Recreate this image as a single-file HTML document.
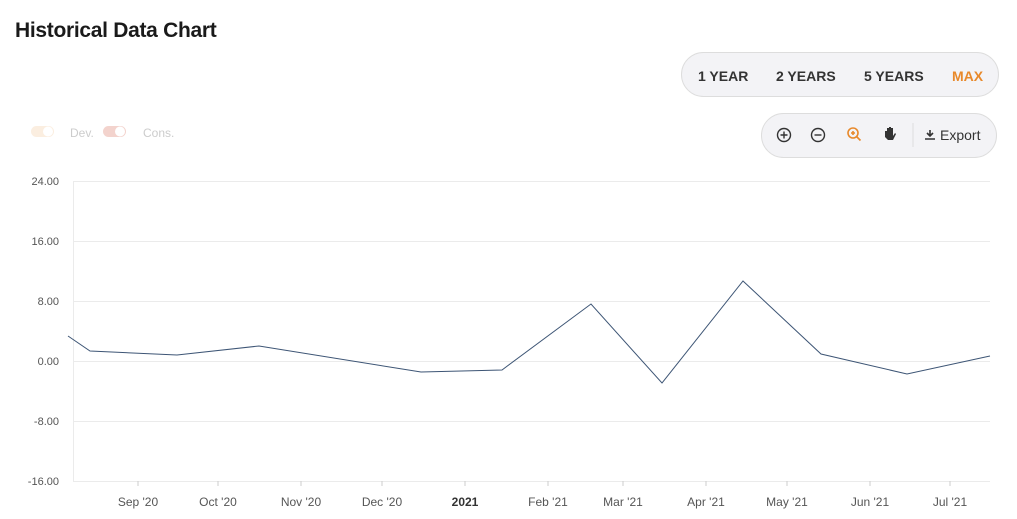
<!DOCTYPE html><html><head><style>
body{margin:0;width:1017px;height:519px;background:#fff;font-family:"Liberation Sans",sans-serif;position:relative;overflow:hidden}
h1{position:absolute;left:15px;top:19px;margin:0;font-size:21px;font-weight:bold;color:#1a1a1a;letter-spacing:-0.3px}
.rng{position:absolute;left:681px;top:52px;width:318px;height:45px;border:1px solid #ddd;border-radius:23px;background:#f3f3f6;box-sizing:border-box}
.rng span{position:absolute;top:15px;font-size:14px;font-weight:bold;color:#333}
.tb{position:absolute;left:761px;top:113px;width:236px;height:45px;border:1px solid #ddd;border-radius:23px;background:#f3f3f6;box-sizing:border-box}
</style></head><body>
<h1>Historical Data Chart</h1>
<div class="rng"><span style="left:16px">1 YEAR</span><span style="left:94px">2 YEARS</span><span style="left:182px">5 YEARS</span><span style="left:270px;color:#e8892b">MAX</span></div>
<div class="tb">
<svg width="236" height="44" style="position:absolute;left:-1px;top:-1px">
<g fill="none" stroke="#333" stroke-width="1.4"><circle cx="23" cy="22" r="6.5"/><path d="M19.5 22h7M23 18.5v7"/><circle cx="57" cy="22" r="6.5"/><path d="M53.5 22h7"/></g>
<g fill="none" stroke="#e8892b" stroke-width="1.6"><circle cx="92" cy="20" r="5"/><path d="M95.5 23.5l4 4M90 20h4M92 18v4"/></g>
<path d="M124 24v-6h2v4v-7h2v6v-7h2v7v-6h2v8l2-3 1 1-3 6h-5z" fill="#333"/>
<line x1="152" y1="10" x2="152" y2="34" stroke="#ddd"/>
<path d="M164 26h10M169 17v6M166 20l3 3 3-3" stroke="#333" stroke-width="1.6" fill="none"/>
<text x="179" y="27" font-size="14" fill="#333" font-family="Liberation Sans">Export</text>
</svg></div>
<svg width="1017" height="519" style="position:absolute;left:0;top:0" font-family="Liberation Sans">
<rect x="31" y="126" width="23" height="11" rx="5.5" fill="#fbeee0"/><circle cx="48" cy="131.5" r="5" fill="#fff"/>
<text x="70" y="137" font-size="12" fill="#ccc">Dev.</text>
<rect x="103" y="126" width="23" height="11" rx="5.5" fill="#f3d3cd"/><circle cx="120" cy="131.5" r="5" fill="#fff"/>
<text x="143" y="137" font-size="12" fill="#ccc">Cons.</text>
<g stroke="#ebebeb" stroke-width="1">
<line x1="73" y1="181.5" x2="990" y2="181.5"/><line x1="73" y1="241.5" x2="990" y2="241.5"/><line x1="73" y1="301.5" x2="990" y2="301.5"/><line x1="73" y1="361.5" x2="990" y2="361.5"/><line x1="73" y1="421.5" x2="990" y2="421.5"/><line x1="73" y1="481.5" x2="990" y2="481.5"/>
<line x1="73.5" y1="181" x2="73.5" y2="481"/>
</g>
<g stroke="#ccc"><line x1="138" y1="481" x2="138" y2="486"/><line x1="218" y1="481" x2="218" y2="486"/><line x1="301" y1="481" x2="301" y2="486"/><line x1="382" y1="481" x2="382" y2="486"/><line x1="465" y1="481" x2="465" y2="486"/><line x1="548" y1="481" x2="548" y2="486"/><line x1="623" y1="481" x2="623" y2="486"/><line x1="706" y1="481" x2="706" y2="486"/><line x1="787" y1="481" x2="787" y2="486"/><line x1="870" y1="481" x2="870" y2="486"/><line x1="950" y1="481" x2="950" y2="486"/></g>
<g font-size="11" fill="#555" text-anchor="end">
<text x="59" y="185">24.00</text><text x="59" y="245">16.00</text><text x="59" y="305">8.00</text><text x="59" y="365">0.00</text><text x="59" y="425">-8.00</text><text x="59" y="485">-16.00</text></g>
<g font-size="12" fill="#555" text-anchor="middle">
<text x="138" y="506">Sep '20</text><text x="218" y="506">Oct '20</text><text x="301" y="506">Nov '20</text><text x="382" y="506">Dec '20</text><text x="465" y="506" font-weight="bold" fill="#333">2021</text><text x="548" y="506">Feb '21</text><text x="623" y="506">Mar '21</text><text x="706" y="506">Apr '21</text><text x="787" y="506">May '21</text><text x="870" y="506">Jun '21</text><text x="950" y="506">Jul '21</text></g>
<polyline fill="none" stroke="#3d5575" stroke-width="1" points="68,336 90,351 177,355 259,346 421,372 502,370 591,304 662,383 743,281 821,354 907,374 990,356"/>
</svg>
</body></html>
